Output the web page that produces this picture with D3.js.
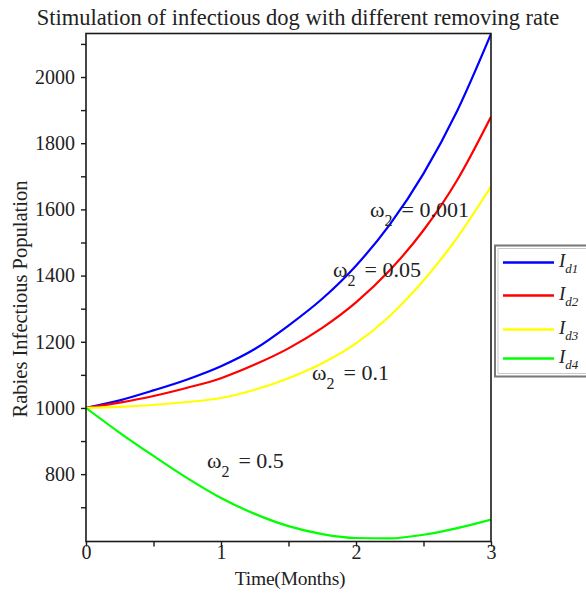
<!DOCTYPE html>
<html>
<head>
<meta charset="utf-8">
<script src="https://cdn.jsdelivr.net/npm/d3@7/dist/d3.min.js"></script>
<style>
  html, body { margin: 0; padding: 0; background: #fff; overflow: hidden; }
  svg { display: block; }
  text { font-family: "Liberation Serif", "Times New Roman", serif; fill: #222; }
</style>
</head>
<body>
<svg id="chart" width="586" height="594"></svg>
<script>
// Time in months
const months = [0, 0.25, 0.5, 0.75, 1, 1.25, 1.5, 1.75, 2, 2.25, 2.5, 2.75, 3];

// Infectious dog population for each removing rate
const id1 = [1000, 1023, 1053, 1086, 1126, 1178, 1249, 1330, 1430, 1554, 1708, 1898, 2130]; // omega2 = 0.001
const id2 = [1000, 1016, 1036, 1061, 1090, 1131, 1180, 1242, 1319, 1416, 1537, 1689, 1880]; // omega2 = 0.05
const id3 = [1000, 1003, 1009, 1018, 1030, 1055, 1090, 1135, 1195, 1278, 1385, 1515, 1669]; // omega2 = 0.1
const id4 = [1000, 925, 855, 788, 728, 680, 643, 619, 607, 606, 617, 637, 663];              // omega2 = 0.5

const seriesNames = ["d1", "d2", "d3", "d4"];
const seriesColors = ["#0000ff", "#ff0000", "#ffff00", "#00ff00"];
const seriesValues = [id1, id2, id3, id4];

const xTickLabels = [0, 1, 2, 3];
const yTickLabels = [800, 1000, 1200, 1400, 1600, 1800, 2000];

// Rate annotations, anchored in data coordinates
const rateLabels = ["0.001", "0.05", "0.1", "0.5"];
const rateAnchorT = [2.104, 1.83, 1.674, 0.896];
const rateAnchorV = [1578, 1396, 1085, 820];

const titleText = "Stimulation of infectious dog with different removing rate";
const xTitle = "Time(Months)";
const yTitle = "Rabies Infectious Population";

const svg = d3.select("#chart");

const x = d3.scaleLinear().domain([0, 3]).range([86, 491]);
const y = d3.scaleLinear().domain([596.5, 2131.5]).range([541.5, 33.5]);

// Curves
const line = d3.line()
  .x((d, i) => x(months[i]))
  .y(d => y(d))
  .curve(d3.curveMonotoneX);

const plot = svg.append("g");
plot.append("clipPath").attr("id", "clip")
  .append("rect")
  .attr("x", x(0)).attr("y", y.range()[1])
  .attr("width", x(3) - x(0)).attr("height", y.range()[0] - y.range()[1]);

plot.append("g").attr("clip-path", "url(#clip)")
  .selectAll("path")
  .data(seriesValues)
  .join("path")
  .attr("d", d => line(d))
  .attr("fill", "none")
  .attr("stroke", (d, i) => seriesColors[i])
  .attr("stroke-width", 2.2);

// Frame
svg.append("rect")
  .attr("x", x(0)).attr("y", y.range()[1])
  .attr("width", x(3) - x(0)).attr("height", y.range()[0] - y.range()[1])
  .attr("fill", "none")
  .attr("stroke", "#1a1a1a")
  .attr("stroke-width", 1.6);

// Y axis (outward ticks every 100, labels every 200)
const yAxis = d3.axisLeft(y)
  .tickValues(d3.range(700, 2101, 100))
  .tickSize(5)
  .tickPadding(6)
  .tickFormat(d => yTickLabels.includes(d) ? d : "");
const gy = svg.append("g").attr("transform", `translate(${x(0)},0)`).call(yAxis);
gy.select(".domain").remove();
gy.selectAll(".tick line").attr("stroke", "#1a1a1a").attr("stroke-width", 1.4);
gy.selectAll(".tick text")
  .attr("font-family", "Liberation Serif, serif")
  .attr("font-size", 20)
  .attr("fill", "#2a2a2a");

// X axis (ticks every 0.5, labels at whole months)
const xAxis = d3.axisBottom(x)
  .tickValues(d3.range(0, 3.01, 0.5))
  .tickSize(5)
  .tickFormat(d => xTickLabels.includes(d) ? d : "");
const gx = svg.append("g").attr("transform", `translate(0,${y.range()[0]})`).call(xAxis);
gx.select(".domain").remove();
gx.selectAll(".tick line").attr("stroke", "#1a1a1a").attr("stroke-width", 1.4);
gx.selectAll(".tick text")
  .attr("y", 3)
  .attr("font-family", "Liberation Serif, serif")
  .attr("font-size", 20)
  .attr("fill", "#2a2a2a");

// Titles
svg.append("text")
  .attr("x", 298).attr("y", 25)
  .attr("text-anchor", "middle")
  .attr("font-size", 22.5)
  .attr("fill", "#111")
  .text(titleText);

svg.append("text")
  .attr("x", 290).attr("y", 585)
  .attr("text-anchor", "middle")
  .attr("font-size", 19.5)
  .attr("letter-spacing", -0.2)
  .text(xTitle);

svg.append("text")
  .attr("transform", "translate(27,299) rotate(-90)")
  .attr("text-anchor", "middle")
  .attr("font-size", 20.5)
  .attr("fill", "#22223a")
  .text(yTitle);

// Rate annotations: omega with subscript 2
rateLabels.forEach((lab, i) => {
  const t = svg.append("text")
    .attr("x", x(rateAnchorT[i]))
    .attr("y", y(rateAnchorV[i]))
    .attr("font-size", 22)
    .attr("fill", "#222");
  t.append("tspan").text("ω");
  t.append("tspan").attr("font-size", 16).attr("dy", 9).text("2");
  t.append("tspan").attr("dy", -9).attr("dx", 9).text("= " + lab);
});

// Legend box: open on the right, running past the page edge
const legend = svg.append("g");
const boxL = 495, boxT = 245.5, boxB = 376.5, boxR = 600;
legend.append("rect")
  .attr("x", boxL).attr("y", boxT)
  .attr("width", boxR - boxL).attr("height", boxB - boxT)
  .attr("fill", "#fff");
legend.append("path")
  .attr("d", `M${boxR},${boxT}H${boxL}V${boxB}H${boxR}`)
  .attr("fill", "none")
  .attr("stroke", "#777")
  .attr("stroke-width", 2);
legend.append("path")
  .attr("d", `M${boxR},${boxT + 3}H${boxL + 3}V${boxB - 3}H${boxR}`)
  .attr("fill", "none")
  .attr("stroke", "#c8c8c8")
  .attr("stroke-width", 1);

const legendRowY = [262.5, 295.5, 329.5, 358.5];
seriesNames.forEach((name, i) => {
  legend.append("line")
    .attr("x1", 503).attr("x2", 554)
    .attr("y1", legendRowY[i]).attr("y2", legendRowY[i])
    .attr("stroke", seriesColors[i])
    .attr("stroke-width", 2.4);
  const t = legend.append("text")
    .attr("x", 559).attr("y", legendRowY[i] + 4)
    .attr("font-size", 19)
    .attr("font-style", "italic")
    .attr("fill", "#2f2f2f");
  t.append("tspan").text("I");
  t.append("tspan").attr("font-size", 13).attr("dy", 6).text(name);
});
</script>
</body>
</html>
